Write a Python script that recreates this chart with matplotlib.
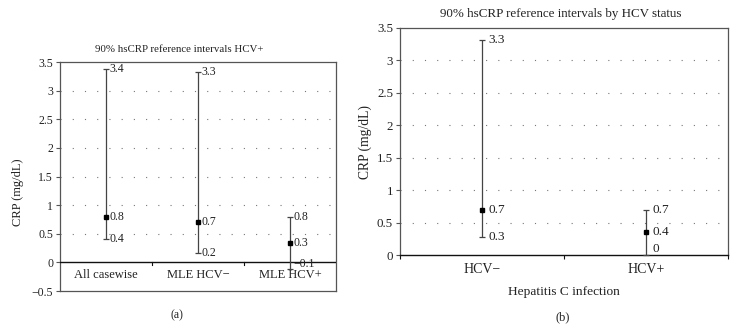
import numpy as np
import matplotlib
matplotlib.use("Agg")
import matplotlib.pyplot as plt
from matplotlib.ticker import FuncFormatter

plt.rcParams["font.family"] = ["Liberation Serif", "DejaVu Serif"]
plt.rcParams["font.size"] = 8

# ── Data ──────────────────────────────────────────────────────────────────────
cats_a = ["All casewise", "MLE HCV\u2212", "MLE HCV+"]
mean_a = [0.8, 0.7, 0.34]
low_a = [0.41, 0.17, -0.12]
high_a = [3.37, 3.32, 0.79]
lbl_mean_a = ["0.8", "0.7", "0.3"]
lbl_low_a = ["0.4", "0.2", "\u22120.1"]
lbl_high_a = ["3.4", "3.3", "0.8"]

cats_b = ["HCV\u2212", "HCV+"]
mean_b = [0.7, 0.36]
low_b = [0.27, 0.0]
high_b = [3.31, 0.7]
lbl_mean_b = ["0.7", "0.4"]
lbl_low_b = ["0.3", "0"]
lbl_high_b = ["3.3", "0.7"]

yticks = np.arange(-0.5, 3.51, 0.5)

BOX = "#555555"
LINE = "#444444"
TXT = "#222222"


def fmt(v, pos):
    s = f"{v:g}"
    return s.replace("-", "\u2212")


def draw_intervals(ax, mean, low, high, lm, ll, lh, fs):
    x = np.arange(len(mean))
    mean = np.array(mean)
    yerr = [mean - np.array(low), np.array(high) - mean]
    ax.errorbar(x, mean, yerr=yerr, fmt="s", color="black", markersize=3.5,
                ecolor=LINE, elinewidth=0.9, capsize=2, capthick=0.9, zorder=4,
                clip_on=False)
    for i in range(len(mean)):
        ax.text(x[i] + 0.04, high[i], lh[i], va="center", ha="left", color=TXT, fontsize=fs)
        ax.text(x[i] + 0.04, mean[i], lm[i], va="center", ha="left", color=TXT, fontsize=fs)
        # labels touching the zero line are nudged up a little, as in the original
        yl = low[i] if low[i] > 0.05 else low[i] + 0.1
        ax.text(x[i] + 0.04, yl, ll[i], va="center", ha="left", color=TXT, fontsize=fs)


def style_axes(ax, ymin, fs):
    ax.set_ylim(ymin, 3.5)
    ax.set_yticks([t for t in yticks if t >= ymin - 1e-9])
    ax.yaxis.set_major_formatter(FuncFormatter(fmt))
    for v in np.arange(0.5, 3.01, 0.5):
        ax.axhline(v, color="#777777", linestyle=(0, (1, 10)), linewidth=0.8, zorder=1)
    for s in ax.spines.values():
        s.set_color(BOX)
        s.set_linewidth(0.9)
    ax.tick_params(axis="y", direction="out", length=3, width=0.8, colors=BOX,
                   labelcolor=TXT, labelsize=fs, pad=2)


fig = plt.figure(figsize=(7.36, 3.29), dpi=100)

# ── Panel (a) ────────────────────────────────────────────────────────────────
ax1 = fig.add_axes([0.0815, 0.1155, 0.375, 0.696])
ax1.set_xlim(-0.5, 2.5)
style_axes(ax1, -0.5, 8.5)
ax1.set_ylabel("CRP (mg/dL)", color=TXT, fontsize=9)
ax1.axhline(0, color="#111111", linewidth=1.0, zorder=3)
ax1.set_xticks([0.5, 1.5])
ax1.set_xticklabels([])
ax1.tick_params(axis="x", which="major", length=0)
for i, c in enumerate(cats_a):
    ax1.text(i, -0.22, c, ha="center", va="center", color=TXT, fontsize=9)
for b in [0.5, 1.5]:
    ax1.plot([b, b], [0, -0.04], color="#111111", linewidth=0.8)
draw_intervals(ax1, mean_a, low_a, high_a, lbl_mean_a, lbl_low_a, lbl_high_a, 8.5)
ax1.yaxis.set_label_coords(-0.129, 0.43)
fig.text(179 / 736, 1 - 50 / 329, "90% hsCRP reference intervals HCV+",
         ha="center", va="center", color=TXT, fontsize=7.8)
fig.text(177 / 736, 1 - 315 / 329, "(a)", ha="center", va="center", color=TXT, fontsize=8.5)

# ── Panel (b) ────────────────────────────────────────────────────────────────
ax2 = fig.add_axes([0.5435, 0.2249, 0.4457, 0.690])
ax2.set_xlim(-0.5, 1.5)
style_axes(ax2, 0, 9.3)
ax2.set_ylabel("CRP (mg/dL)", color=TXT, fontsize=9.8)
ax2.spines["bottom"].set_color("#111111")
ax2.spines["bottom"].set_linewidth(1.0)
ax2.set_xticks([-0.5, 0.5, 1.5])
ax2.set_xticklabels([])
ax2.set_xticks([0, 1], minor=True)
ax2.set_xticklabels(cats_b, minor=True)
ax2.tick_params(axis="x", which="major", direction="out", length=3, width=0.8, colors="#111111")
ax2.tick_params(axis="x", which="minor", length=0, pad=6, labelsize=10, labelcolor=TXT)
draw_intervals(ax2, mean_b, low_b, high_b, lbl_mean_b, lbl_low_b, lbl_high_b, 9.5)
ax2.yaxis.set_label_coords(-0.085, 0.5)
ax2.set_xlabel("Hepatitis C infection", color=TXT, fontsize=9.6, labelpad=7)
fig.text(561 / 736, 1 - 14 / 329, "90% hsCRP reference intervals by HCV status",
         ha="center", va="center", color=TXT, fontsize=9.4)
fig.text(563 / 736, 1 - 317 / 329, "(b)", ha="center", va="center", color=TXT, fontsize=9)

fig.savefig("out.png", dpi=100)
